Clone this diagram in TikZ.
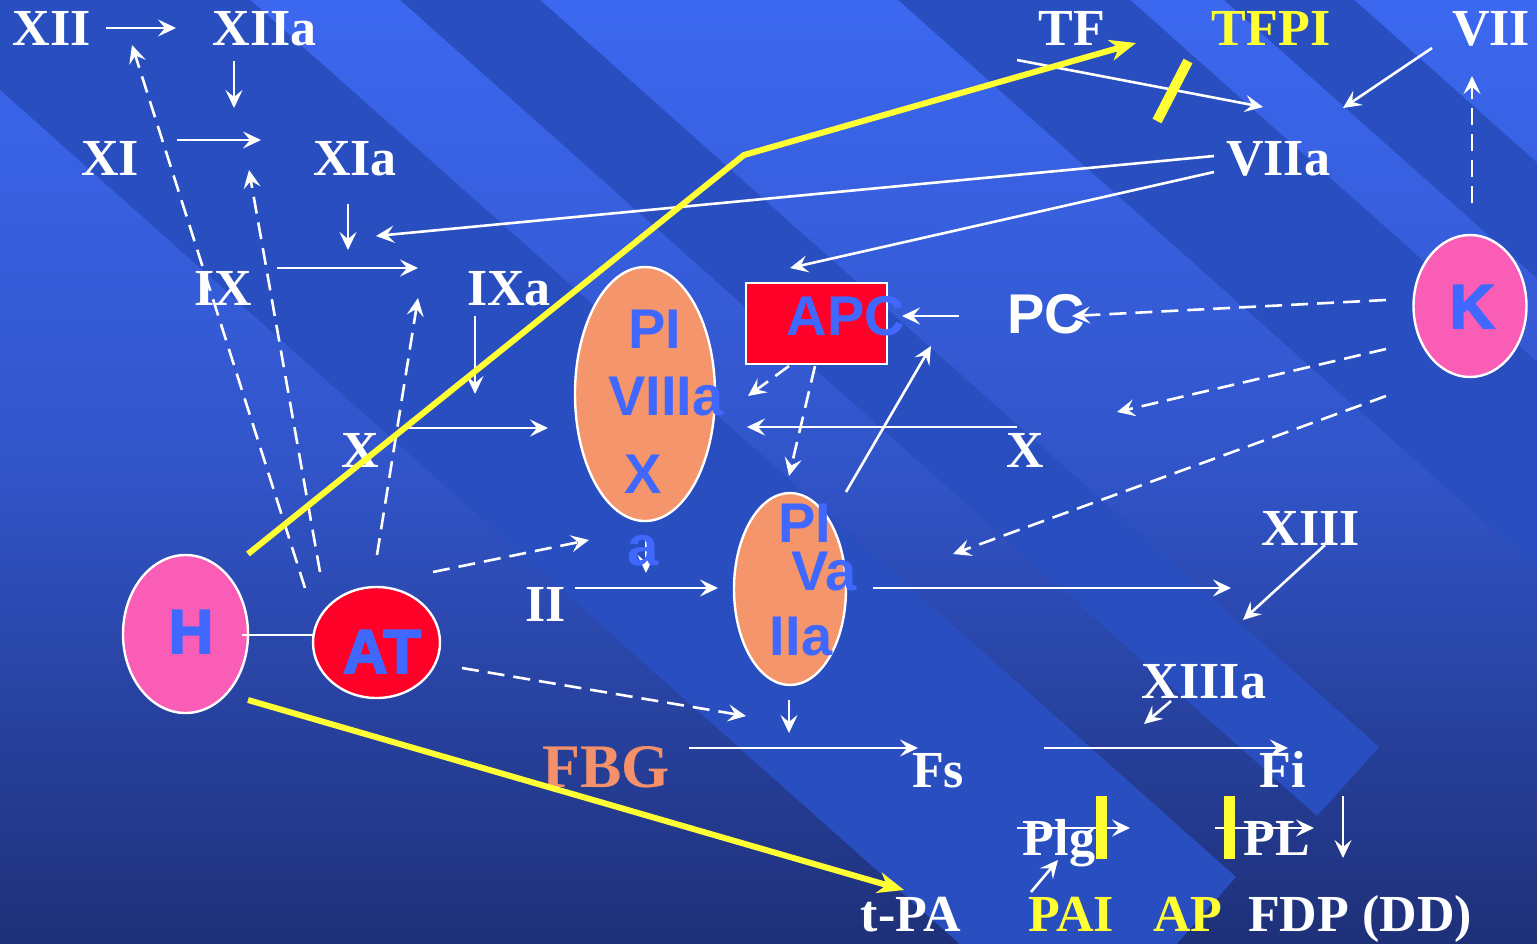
\documentclass[tikz,border=0pt]{standalone}
\usepackage{fontspec}
\setmainfont{Liberation Serif}
\newfontfamily\sansb{Liberation Sans}
\newfontfamily\heavysans{Liberation Sans}[BoldFeatures={FakeBold=3}]
\usetikzlibrary{arrows.meta,shapes.geometric}
\definecolor{bgtop}{HTML}{3C68F0}
\definecolor{bgmid}{HTML}{3154C8}
\definecolor{bgbot}{HTML}{1E3078}
\definecolor{bandc}{HTML}{294EBF}
\definecolor{salmon}{HTML}{F5956B}
\definecolor{fbgc}{HTML}{F4916A}
\definecolor{pinkc}{HTML}{FA5DB5}
\definecolor{redc}{HTML}{FF0028}
\definecolor{yel}{HTML}{FFFF33}
\definecolor{txtblue}{HTML}{4068FF}
\begin{document}
\begin{tikzpicture}[x=1pt,y=-1pt,
 lab/.style={font=\fontsize{52}{52}\selectfont\bfseries, text=white, inner sep=0pt, anchor=base},
 ylab/.style={lab, text=yel},
 slab/.style={font=\sansb\fontsize{56}{56}\selectfont\bfseries, text=txtblue, inner sep=0pt, anchor=base},
 hlab/.style={font=\heavysans\fontsize{62}{62}\selectfont\bfseries, text=txtblue, inner sep=0pt, anchor=base},
 wa/.style={draw=white, line width=2.6pt, -{Stealth[length=18pt,width=17pt,inset=7pt]}},
 da/.style={wa, dash pattern=on 17pt off 9pt},
 yl/.style={draw=yel, line width=6pt},
 ytip/.style={-{Stealth[length=26pt,width=21pt,inset=8pt]}},
 bubble/.style={ellipse, draw=white, line width=2.4pt, inner sep=0pt},
]
\useasboundingbox (0,0) rectangle (1537,943);
% ---------- background ----------
\begin{scope}
\clip (0,0) rectangle (1537,943);
\shade[top color=bgtop, bottom color=bgmid] (0,0) rectangle (1537,472);
\shade[top color=bgmid, bottom color=bgbot] (0,471) rectangle (1537,943);
\fill[bandc] (-157,-50) -- (194,-50) -- (1236,877) -- (1081,1052) -- cycle;
\fill[bandc] (344,-50) -- (484,-50) -- (1379,747) -- (1317,816) -- cycle;
\fill[bandc] (842,-50) -- (1074,-50) -- (2254,1000) -- (2022,1000) -- cycle;
\fill[bandc] (1168,-50) -- (1298,-50) -- (2478,1000) -- (2348,1000) -- cycle;
\end{scope}
% ---------- shapes ----------
\node[bubble, fill=salmon, minimum width=140pt, minimum height=254pt] (e1) at (645,394) {};
\node[bubble, fill=salmon, minimum width=112pt, minimum height=192pt] (e2) at (790,589) {};
\node[bubble, fill=pinkc, minimum width=125pt, minimum height=158pt] (hell) at (185.5,634) {};
\node[bubble, fill=redc, minimum width=127pt, minimum height=111pt] (atell) at (376.5,642.5) {};
\node[bubble, fill=pinkc, minimum width=113pt, minimum height=142pt] (kell) at (1470,306) {};
\node[rectangle, draw=white, line width=2pt, fill=redc, minimum width=141pt, minimum height=81pt, inner sep=0pt] (apcbox) at (816.5,323.5) {};
% small arrow under the "a"
\coordinate (c37a) at (646,538); \coordinate (c37b) at (646,573);
\draw[wa] (c37a) -- (c37b);
% ---------- labels ----------
\node[lab] (xii) at (52,45) {XII};
\node[lab] (xiia) at (265,45) {XIIa};
\node[lab] (xi) at (110,175) {XI};
\node[lab] (xia) at (355,175) {XIa};
\node[lab] (ix) at (223,305) {IX};
\node[lab] (ixa) at (509,305) {IXa};
\node[lab] (xl) at (360,467) {X};
\node[lab] (xr) at (1025,467) {X};
\node[lab] (tf) at (1072,45) {TF};
\node[ylab] (tfpi) at (1271,45) {TFPI};
\node[lab] (vii) at (1491,45) {VII};
\node[lab] (viia) at (1278,175) {VIIa};
\node[lab] (xiii) at (1311,545) {XIII};
\node[lab] (xiiia) at (1204,698) {XIIIa};
\node[lab] (ii) at (546,621) {II};
\node[lab, text=fbgc, font=\fontsize{62}{62}\selectfont\bfseries] (fbg) at (606,787) {FBG};
\node[lab] (fs) at (938,787) {Fs};
\node[lab] (fi) at (1283,787) {Fi};
\node[lab] (plg) at (1059,855) {Plg};
\node[lab] (pl) at (1277,855) {PL};
\node[lab] (tpa) at (911,931) {t-PA};
\node[ylab] (pai) at (1071,931) {PAI};
\node[ylab] (ap) at (1188,931) {AP};
\node[lab] (fdp) at (1360,931) {FDP (DD)};
\node[slab] (pi1) at (655,348) {PI};
\node[slab] (viiia) at (666,415) {VIIIa};
\node[slab] (x1) at (643,493) {X};
\node[slab] (a1) at (643,565) {a};
\node[slab] (pi2) at (805,542) {PI};
\node[slab] (va) at (824,590) {Va};
\node[slab] (iia) at (801,655) {IIa};
\node[slab] (apc) at (846,335) {APC};
\node[slab, text=white] (pc) at (1046,333) {PC};
\node[hlab] (h) at (191,653) {H};
\node[hlab] (at) at (382,673) {AT};
\node[hlab] (k) at (1472,328) {K};
% ---------- white connectors ----------
\coordinate (c1a) at (106,28);   \coordinate (c1b) at (176,28);
\coordinate (c2a) at (234,61);   \coordinate (c2b) at (234,108);
\coordinate (c3a) at (177,140);  \coordinate (c3b) at (261,140);
\coordinate (c4a) at (348,204);  \coordinate (c4b) at (348,250);
\coordinate (c5a) at (277,268);  \coordinate (c5b) at (418,268);
\coordinate (c6a) at (475,316);  \coordinate (c6b) at (475,394);
\coordinate (c7a) at (408,428);  \coordinate (c7b) at (548,428);
\coordinate (c8a) at (1214,156); \coordinate (c8b) at (376,236);
\coordinate (c9a) at (1214,172); \coordinate (c9b) at (790,268);
\coordinate (c10a) at (1017,60); \coordinate (c10b) at (1263,107);
\coordinate (c11a) at (1432,48); \coordinate (c11b) at (1343,108);
\coordinate (c12a) at (1472,203); \coordinate (c12b) at (1472,76);
\coordinate (c13a) at (1386,300); \coordinate (c13b) at (1072,316);
\coordinate (c14a) at (959,316); \coordinate (c14b) at (902,316);
\coordinate (c15a) at (1386,349); \coordinate (c15b) at (1117,412);
\coordinate (c16a) at (1386,396); \coordinate (c16b) at (953,554);
\coordinate (c17a) at (1017,427); \coordinate (c17b) at (747,427);
\coordinate (c18a) at (789,366); \coordinate (c18b) at (748,396);
\coordinate (c19a) at (815,366); \coordinate (c19b) at (789,476);
\coordinate (c20a) at (846,492); \coordinate (c20b) at (931,346);
\coordinate (c21a) at (575,588); \coordinate (c21b) at (718,588);
\coordinate (c22a) at (873,588); \coordinate (c22b) at (1231,588);
\coordinate (c23a) at (1325,545); \coordinate (c23b) at (1243,620);
\coordinate (c24a) at (1171,701); \coordinate (c24b) at (1144,724);
\coordinate (c25a) at (789,700); \coordinate (c25b) at (789,733);
\coordinate (c26a) at (689,748); \coordinate (c26b) at (918,748);
\coordinate (c27a) at (1044,748); \coordinate (c27b) at (1288,748);
\coordinate (c28a) at (1343,796); \coordinate (c28b) at (1343,858);
\coordinate (c29a) at (1017,828); \coordinate (c29b) at (1130,828);
\coordinate (c30a) at (1215,828); \coordinate (c30b) at (1314,828);
\coordinate (c31a) at (1031,892); \coordinate (c31b) at (1058,860);
\coordinate (c32a) at (433,572); \coordinate (c32b) at (589,540);
\coordinate (c33a) at (462,668); \coordinate (c33b) at (746,716);
\coordinate (c34a) at (305,588); \coordinate (c34b) at (132,45);
\coordinate (c35a) at (320,572); \coordinate (c35b) at (249,170);
\coordinate (c36a) at (377,555); \coordinate (c36b) at (418,298);
\coordinate (hat1) at (242,635); \coordinate (hat2) at (314,635);
\draw[wa] (c1a) -- (c1b);
\draw[wa] (c2a) -- (c2b);
\draw[wa] (c3a) -- (c3b);
\draw[wa] (c4a) -- (c4b);
\draw[wa] (c5a) -- (c5b);
\draw[wa] (c6a) -- (c6b);
\draw[wa] (c7a) -- (c7b);
\draw[wa] (c8a) -- (c8b);
\draw[wa] (c9a) -- (c9b);
\draw[wa] (c10a) -- (c10b);
\draw[wa] (c11a) -- (c11b);
\draw[da] (c12a) -- (c12b);
\draw[da] (c13a) -- (c13b);
\draw[wa] (c14a) -- (c14b);
\draw[da] (c15a) -- (c15b);
\draw[da] (c16a) -- (c16b);
\draw[wa] (c17a) -- (c17b);
\draw[da] (c18a) -- (c18b);
\draw[da] (c19a) -- (c19b);
\draw[wa] (c20a) -- (c20b);
\draw[wa] (c21a) -- (c21b);
\draw[wa] (c22a) -- (c22b);
\draw[wa] (c23a) -- (c23b);
\draw[wa] (c24a) -- (c24b);
\draw[wa] (c25a) -- (c25b);
\draw[wa] (c26a) -- (c26b);
\draw[wa] (c27a) -- (c27b);
\draw[wa] (c28a) -- (c28b);
\draw[wa] (c29a) -- (c29b);
\draw[wa] (c30a) -- (c30b);
\draw[wa] (c31a) -- (c31b);
\draw[da] (c32a) -- (c32b);
\draw[da] (c33a) -- (c33b);
\draw[da] (c34a) -- (c34b);
\draw[da] (c35a) -- (c35b);
\draw[da] (c36a) -- (c36b);
\draw[draw=white, line width=2.4pt] (hat1) -- (hat2);
% ---------- yellow ----------
\coordinate (y1a) at (248,554); \coordinate (y1m) at (744,155); \coordinate (y1b) at (1136,43);
\coordinate (y2a) at (248,700); \coordinate (y2b) at (904,890);
\draw[yl, ytip] (y1a) -- (y1m) -- (y1b);
\draw[yl, ytip] (y2a) -- (y2b);
\coordinate (tb1) at (1157,121); \coordinate (tb2) at (1188,61);
\draw[draw=yel, line width=10pt] (tb1) -- (tb2);
\coordinate (pb1) at (1101.5,796); \coordinate (pb2) at (1101.5,859);
\draw[draw=yel, line width=11pt] (pb1) -- (pb2);
\coordinate (lb1) at (1229.5,796); \coordinate (lb2) at (1229.5,859);
\draw[draw=yel, line width=11pt] (lb1) -- (lb2);
\end{tikzpicture}
\end{document}
